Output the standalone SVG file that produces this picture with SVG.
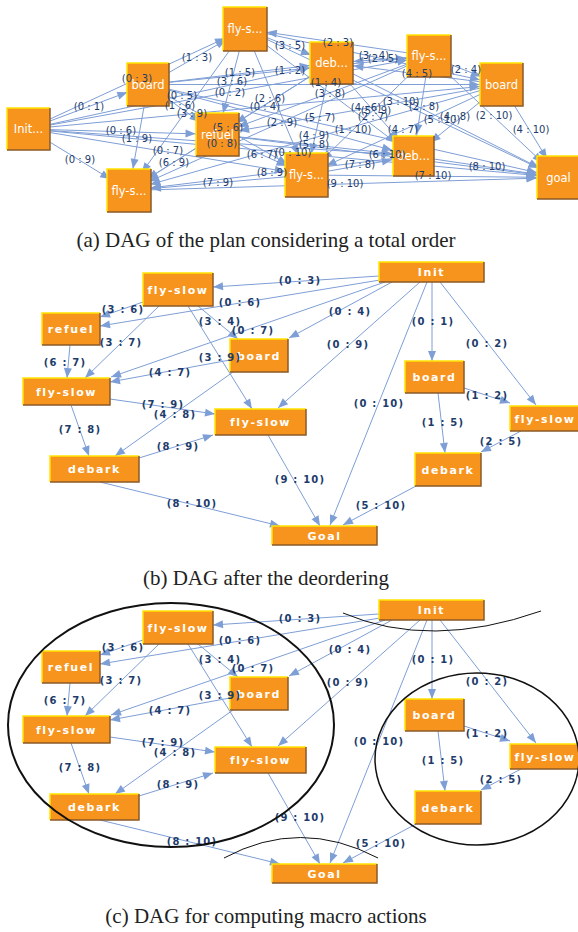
<svg xmlns="http://www.w3.org/2000/svg" width="578" height="932" viewBox="0 0 578 932">
<style>
.e{stroke:#7E9ED6;stroke-width:1;fill:none}
.ea{marker-end:url(#ma)}
.eb{marker-end:url(#mb)}
.box{fill:#F7941D}
.hi{fill:none;stroke:#FFE400;stroke-width:1.5}
.lo{fill:none;stroke:#8A5A28;stroke-width:1.5}
.nta{font-family:"DejaVu Sans",sans-serif;font-size:11.5px;fill:#fff;text-anchor:middle}
.ntb{font-family:"DejaVu Sans",sans-serif;font-size:11px;font-weight:bold;fill:#fff;text-anchor:middle;letter-spacing:1.6px}
.la{font-family:"DejaVu Sans",sans-serif;font-size:10px;fill:#1E3C6B;text-anchor:middle}
.lb{font-family:"DejaVu Sans",sans-serif;font-size:10px;font-weight:bold;fill:#1E3C6B;text-anchor:middle;letter-spacing:1.2px}
.cap{font-family:"Liberation Serif",serif;font-size:21px;fill:#222;text-anchor:middle}
.ring{fill:none;stroke:#111}
</style>
<defs>
<marker id="ma" viewBox="0 0 10 10" refX="32" refY="5" markerWidth="10" markerHeight="10" markerUnits="userSpaceOnUse" orient="auto" overflow="visible"><path d="M0,1 L10,5 L0,9 z" fill="#7E9ED6"/></marker>
<marker id="mb" viewBox="0 0 10 10" refX="10" refY="5" markerWidth="10" markerHeight="10" markerUnits="userSpaceOnUse" orient="auto" overflow="visible"><path d="M0,1 L10,5 L0,9 z" fill="#7E9ED6"/></marker>
</defs>
<rect width="578" height="932" fill="#fff"/>

<!-- ===== Panel (a) ===== -->
<g id="a-connectors" class="e ea">
<path d="M28.5,129 L148,84.5"/><path d="M28.5,129 L429,56"/><path d="M28.5,129 L245,29"/><path d="M28.5,129 L501.5,84.5"/><path d="M28.5,129 L331.5,63"/><path d="M28.5,129 L217.5,134.5"/><path d="M28.5,129 L306.5,175"/><path d="M28.5,129 L413.5,156"/><path d="M28.5,129 L129,190.5"/><path d="M28.5,129 L558.5,177.5"/>
<path d="M148,84.5 L429,56"/><path d="M148,84.5 L245,29"/><path d="M148,84.5 L501.5,84.5"/><path d="M148,84.5 L331.5,63"/><path d="M148,84.5 L217.5,134.5"/><path d="M148,84.5 L306.5,175"/><path d="M148,84.5 L413.5,156"/><path d="M148,84.5 L129,190.5"/><path d="M148,84.5 L558.5,177.5"/>
<path d="M429,56 L245,29"/><path d="M429,56 L501.5,84.5"/><path d="M429,56 L331.5,63"/><path d="M429,56 L217.5,134.5"/><path d="M429,56 L306.5,175"/><path d="M429,56 L413.5,156"/><path d="M429,56 L129,190.5"/><path d="M429,56 L558.5,177.5"/>
<path d="M245,29 L501.5,84.5"/><path d="M245,29 L331.5,63"/><path d="M245,29 L217.5,134.5"/><path d="M245,29 L306.5,175"/><path d="M245,29 L413.5,156"/><path d="M245,29 L129,190.5"/><path d="M245,29 L558.5,177.5"/>
<path d="M501.5,84.5 L331.5,63"/><path d="M501.5,84.5 L217.5,134.5"/><path d="M501.5,84.5 L306.5,175"/><path d="M501.5,84.5 L413.5,156"/><path d="M501.5,84.5 L129,190.5"/><path d="M501.5,84.5 L558.5,177.5"/>
<path d="M331.5,63 L217.5,134.5"/><path d="M331.5,63 L306.5,175"/><path d="M331.5,63 L413.5,156"/><path d="M331.5,63 L129,190.5"/><path d="M331.5,63 L558.5,177.5"/>
<path d="M217.5,134.5 L306.5,175"/><path d="M217.5,134.5 L413.5,156"/><path d="M217.5,134.5 L129,190.5"/><path d="M217.5,134.5 L558.5,177.5"/>
<path d="M306.5,175 L413.5,156"/><path d="M306.5,175 L129,190.5"/><path d="M306.5,175 L558.5,177.5"/>
<path d="M413.5,156 L129,190.5"/><path d="M413.5,156 L558.5,177.5"/>
<path d="M129,190.5 L558.5,177.5"/>
</g>
<g id="a-n0"><rect class="box" x="7" y="108" width="43" height="42"/><path class="hi" d="M7,150 V108 H50"/><path class="lo" d="M50,108 V150 H7"/><text class="nta" x="28.5" y="133">Init...</text></g>
<g id="a-n1"><rect class="box" x="127" y="63" width="42" height="43"/><path class="hi" d="M127,106 V63 H169"/><path class="lo" d="M169,63 V106 H127"/><text class="nta" x="148" y="89">board</text></g>
<g id="a-n2"><rect class="box" x="407" y="35" width="44" height="42"/><path class="hi" d="M407,77 V35 H451"/><path class="lo" d="M451,35 V77 H407"/><text class="nta" x="429" y="60">fly-s...</text></g>
<g id="a-n3"><rect class="box" x="223" y="7" width="44" height="44"/><path class="hi" d="M223,51 V7 H267"/><path class="lo" d="M267,7 V51 H223"/><text class="nta" x="245" y="33">fly-s...</text></g>
<g id="a-n4"><rect class="box" x="480" y="63" width="43" height="43"/><path class="hi" d="M480,106 V63 H523"/><path class="lo" d="M523,63 V106 H480"/><text class="nta" x="501.5" y="89">board</text></g>
<g id="a-n5"><rect class="box" x="310" y="42" width="43" height="42"/><path class="hi" d="M310,84 V42 H353"/><path class="lo" d="M353,42 V84 H310"/><text class="nta" x="331.5" y="67">deb...</text></g>
<g id="a-n6"><rect class="box" x="196" y="113" width="43" height="43"/><path class="hi" d="M196,156 V113 H239"/><path class="lo" d="M239,113 V156 H196"/><text class="nta" x="217.5" y="139">refuel</text></g>
<g id="a-n7"><rect class="box" x="285" y="153" width="43" height="44"/><path class="hi" d="M285,197 V153 H328"/><path class="lo" d="M328,153 V197 H285"/><text class="nta" x="306.5" y="179">fly-s...</text></g>
<g id="a-n8"><rect class="box" x="393" y="136" width="41" height="40"/><path class="hi" d="M393,176 V136 H434"/><path class="lo" d="M434,136 V176 H393"/><text class="nta" x="413.5" y="160">deb...</text></g>
<g id="a-n9"><rect class="box" x="107" y="169" width="44" height="43"/><path class="hi" d="M107,212 V169 H151"/><path class="lo" d="M151,169 V212 H107"/><text class="nta" x="129" y="195">fly-s...</text></g>
<g id="a-n10"><rect class="box" x="537" y="156" width="43" height="43"/><path class="hi" d="M537,199 V156 H580"/><path class="lo" d="M580,156 V199 H537"/><text class="nta" x="558.5" y="182">goal</text></g>
<g id="a-labels" class="la">
<text x="89" y="110">(0 : 1)</text><text x="137" y="82">(0 : 3)</text><text x="197" y="61">(1 : 3)</text><text x="80" y="163">(0 : 9)</text>
<text x="121" y="134">(0 : 6)</text><text x="137" y="142">(1 : 9)</text><text x="182" y="99">(0 : 5)</text><text x="232" y="85">(3 : 6)</text>
<text x="230" y="96">(0 : 2)</text><text x="240" y="76">(1 : 5)</text><text x="180" y="109">(1 : 6)</text><text x="192" y="117">(3 : 9)</text>
<text x="168" y="154">(0 : 7)</text><text x="174" y="166">(6 : 9)</text><text x="222" y="147">(0 : 8)</text><text x="228" y="131">(5 : 6)</text>
<text x="218" y="186">(7 : 9)</text><text x="272" y="176">(8 : 9)</text><text x="262" y="158">(6 : 7)</text><text x="265" y="110">(0 : 4)</text>
<text x="270" y="102">(2 : 6)</text><text x="290" y="49">(3 : 5)</text><text x="290" y="74">(1 : 2)</text><text x="282" y="126">(2 : 9)</text>
<text x="320" y="121">(5 : 7)</text><text x="314" y="139">(4 : 9)</text><text x="314" y="148">(5 : 8)</text><text x="353" y="133">(1 : 10)</text>
<text x="293" y="156">(0 : 10)</text><text x="387" y="158">(6 : 10)</text><text x="360" y="168">(7 : 8)</text><text x="345" y="187">(9 : 10)</text>
<text x="433" y="179">(7 : 10)</text><text x="487" y="170">(8 : 10)</text><text x="403" y="133">(4 : 7)</text><text x="373" y="120">(2 : 7)</text>
<text x="366" y="111">(4 : 6)</text><text x="401" y="105">(3 : 10)</text><text x="424" y="110">(2 : 8)</text><text x="442" y="123">(5 : 10)</text>
<text x="455" y="120">(4 : 8)</text><text x="494" y="119">(2 : 10)</text><text x="531" y="133">(4 : 10)</text><text x="466" y="73">(2 : 4)</text>
<text x="417" y="77">(4 : 5)</text><text x="338" y="46">(2 : 3)</text><text x="374" y="59">(3 : 4)</text><text x="383" y="62">(2 : 5)</text>
<text x="326" y="86">(1 : 4)</text><text x="330" y="97">(3 : 8)</text><text x="376" y="114">(5 : 9)</text>
</g>
<text class="cap" x="266" y="247">(a) DAG of the plan considering a total order</text>

<!-- ===== Panel (b) ===== -->
<g id="b-connectors" class="e eb">
<path d="M379,276 L213,287"/><path d="M380,280 L100,326"/><path d="M385,282 L111,377"/><path d="M392,282 L289,338"/>
<path d="M420,282 L278,408"/><path d="M427,282 L330,525"/><path d="M432,282 L432,361"/><path d="M440,282 L536,405"/>
<path d="M464,388 L510,403"/><path d="M438,393 L445,453"/><path d="M521,431 L481,452"/><path d="M416,486 L343,525"/>
<path d="M143,302 L100,317"/><path d="M159,306 L85,378"/><path d="M198,306 L238,339"/><path d="M188,306 L252,409"/>
<path d="M70,345 L67,378"/><path d="M230,360 L110,382"/><path d="M233,372 L115,456"/><path d="M110,399 L215,414"/>
<path d="M71,405 L89,456"/><path d="M139,458 L213,435"/><path d="M100,482 L280,526"/><path d="M268,435 L320,526"/>
</g>
<g id="b-n0"><rect class="box" x="379" y="262" width="105" height="20"/><path class="hi" d="M379,282 V262 H484"/><path class="lo" d="M484,262 V282 H379"/><text class="ntb" x="431.5" y="276">Init</text></g>
<g id="b-n1"><rect class="box" x="405" y="361" width="59" height="32"/><path class="hi" d="M405,393 V361 H464"/><path class="lo" d="M464,361 V393 H405"/><text class="ntb" x="434.5" y="381">board</text></g>
<g id="b-n2"><rect class="box" x="510" y="406" width="70" height="25"/><path class="hi" d="M510,431 V406 H580"/><path class="lo" d="M580,406 V431 H510"/><text class="ntb" x="545" y="422.5">fly-slow</text></g>
<g id="b-n3"><rect class="box" x="143" y="273" width="70" height="33"/><path class="hi" d="M143,306 V273 H213"/><path class="lo" d="M213,273 V306 H143"/><text class="ntb" x="178" y="293.5">fly-slow</text></g>
<g id="b-n4"><rect class="box" x="230" y="339" width="58" height="33"/><path class="hi" d="M230,372 V339 H288"/><path class="lo" d="M288,339 V372 H230"/><text class="ntb" x="259" y="359.5">board</text></g>
<g id="b-n5"><rect class="box" x="415" y="453" width="66" height="33"/><path class="hi" d="M415,486 V453 H481"/><path class="lo" d="M481,453 V486 H415"/><text class="ntb" x="448" y="473.5">debark</text></g>
<g id="b-n6"><rect class="box" x="42" y="313" width="58" height="32"/><path class="hi" d="M42,345 V313 H100"/><path class="lo" d="M100,313 V345 H42"/><text class="ntb" x="71" y="333">refuel</text></g>
<g id="b-n7"><rect class="box" x="23" y="378" width="87" height="27"/><path class="hi" d="M23,405 V378 H110"/><path class="lo" d="M110,378 V405 H23"/><text class="ntb" x="66.5" y="395.5">fly-slow</text></g>
<g id="b-n8"><rect class="box" x="50" y="456" width="89" height="26"/><path class="hi" d="M50,482 V456 H139"/><path class="lo" d="M139,456 V482 H50"/><text class="ntb" x="94.5" y="473">debark</text></g>
<g id="b-n9"><rect class="box" x="215" y="409" width="91" height="26"/><path class="hi" d="M215,435 V409 H306"/><path class="lo" d="M306,409 V435 H215"/><text class="ntb" x="260.5" y="426">fly-slow</text></g>
<g id="b-n10"><rect class="box" x="272" y="526" width="105" height="19"/><path class="hi" d="M272,545 V526 H377"/><path class="lo" d="M377,526 V545 H272"/><text class="ntb" x="324.5" y="539.5">Goal</text></g>
<g id="b-labels" class="lb">
<text x="300" y="284">(0 : 3)</text><text x="240" y="306">(0 : 6)</text><text x="123" y="313">(3 : 6)</text><text x="121" y="346">(3 : 7)</text>
<text x="220" y="325">(3 : 4)</text><text x="253" y="334">(0 : 7)</text><text x="220" y="361">(3 : 9)</text><text x="170" y="376">(4 : 7)</text>
<text x="65" y="366">(6 : 7)</text><text x="163" y="408">(7 : 9)</text><text x="175" y="418">(4 : 8)</text><text x="80" y="433">(7 : 8)</text>
<text x="178" y="450">(8 : 9)</text><text x="192" y="507">(8 : 10)</text><text x="300" y="483">(9 : 10)</text><text x="350" y="315">(0 : 4)</text>
<text x="348" y="348">(0 : 9)</text><text x="379" y="407">(0 : 10)</text><text x="433" y="325">(0 : 1)</text><text x="487" y="347">(0 : 2)</text>
<text x="487" y="399">(1 : 2)</text><text x="443" y="426">(1 : 5)</text><text x="501" y="445">(2 : 5)</text><text x="381" y="509">(5 : 10)</text>
</g>
<text class="cap" x="266" y="585">(b) DAG after the deordering</text>

<!-- ===== Panel (c) ===== -->
<g transform="translate(0,338)">
<g id="c-connectors" class="e eb">
<path d="M379,276 L213,287"/><path d="M380,280 L100,326"/><path d="M385,282 L111,377"/><path d="M392,282 L289,338"/>
<path d="M420,282 L278,408"/><path d="M427,282 L330,525"/><path d="M432,282 L432,361"/><path d="M440,282 L536,405"/>
<path d="M464,388 L510,403"/><path d="M438,393 L445,453"/><path d="M521,431 L481,452"/><path d="M416,486 L343,525"/>
<path d="M143,302 L100,317"/><path d="M159,306 L85,378"/><path d="M198,306 L238,339"/><path d="M188,306 L252,409"/>
<path d="M70,345 L67,378"/><path d="M230,360 L110,382"/><path d="M233,372 L115,456"/><path d="M110,399 L215,414"/>
<path d="M71,405 L89,456"/><path d="M139,458 L213,435"/><path d="M100,482 L280,526"/><path d="M268,435 L320,526"/>
</g>
<g id="c-n0"><rect class="box" x="379" y="262" width="105" height="20"/><path class="hi" d="M379,282 V262 H484"/><path class="lo" d="M484,262 V282 H379"/><text class="ntb" x="431.5" y="276">Init</text></g>
<g id="c-n1"><rect class="box" x="405" y="361" width="59" height="32"/><path class="hi" d="M405,393 V361 H464"/><path class="lo" d="M464,361 V393 H405"/><text class="ntb" x="434.5" y="381">board</text></g>
<g id="c-n2"><rect class="box" x="510" y="406" width="70" height="25"/><path class="hi" d="M510,431 V406 H580"/><path class="lo" d="M580,406 V431 H510"/><text class="ntb" x="545" y="422.5">fly-slow</text></g>
<g id="c-n3"><rect class="box" x="143" y="273" width="70" height="33"/><path class="hi" d="M143,306 V273 H213"/><path class="lo" d="M213,273 V306 H143"/><text class="ntb" x="178" y="293.5">fly-slow</text></g>
<g id="c-n4"><rect class="box" x="230" y="339" width="58" height="33"/><path class="hi" d="M230,372 V339 H288"/><path class="lo" d="M288,339 V372 H230"/><text class="ntb" x="259" y="359.5">board</text></g>
<g id="c-n5"><rect class="box" x="415" y="453" width="66" height="33"/><path class="hi" d="M415,486 V453 H481"/><path class="lo" d="M481,453 V486 H415"/><text class="ntb" x="448" y="473.5">debark</text></g>
<g id="c-n6"><rect class="box" x="42" y="313" width="58" height="32"/><path class="hi" d="M42,345 V313 H100"/><path class="lo" d="M100,313 V345 H42"/><text class="ntb" x="71" y="333">refuel</text></g>
<g id="c-n7"><rect class="box" x="23" y="378" width="87" height="27"/><path class="hi" d="M23,405 V378 H110"/><path class="lo" d="M110,378 V405 H23"/><text class="ntb" x="66.5" y="395.5">fly-slow</text></g>
<g id="c-n8"><rect class="box" x="50" y="456" width="89" height="26"/><path class="hi" d="M50,482 V456 H139"/><path class="lo" d="M139,456 V482 H50"/><text class="ntb" x="94.5" y="473">debark</text></g>
<g id="c-n9"><rect class="box" x="215" y="409" width="91" height="26"/><path class="hi" d="M215,435 V409 H306"/><path class="lo" d="M306,409 V435 H215"/><text class="ntb" x="260.5" y="426">fly-slow</text></g>
<g id="c-n10"><rect class="box" x="272" y="526" width="105" height="19"/><path class="hi" d="M272,545 V526 H377"/><path class="lo" d="M377,526 V545 H272"/><text class="ntb" x="324.5" y="539.5">Goal</text></g>
<g id="c-labels" class="lb">
<text x="300" y="284">(0 : 3)</text><text x="240" y="306">(0 : 6)</text><text x="123" y="313">(3 : 6)</text><text x="121" y="346">(3 : 7)</text>
<text x="220" y="325">(3 : 4)</text><text x="253" y="334">(0 : 7)</text><text x="220" y="361">(3 : 9)</text><text x="170" y="376">(4 : 7)</text>
<text x="65" y="366">(6 : 7)</text><text x="163" y="408">(7 : 9)</text><text x="175" y="418">(4 : 8)</text><text x="80" y="433">(7 : 8)</text>
<text x="178" y="450">(8 : 9)</text><text x="192" y="507">(8 : 10)</text><text x="300" y="483">(9 : 10)</text><text x="350" y="315">(0 : 4)</text>
<text x="348" y="348">(0 : 9)</text><text x="379" y="407">(0 : 10)</text><text x="433" y="325">(0 : 1)</text><text x="487" y="347">(0 : 2)</text>
<text x="487" y="399">(1 : 2)</text><text x="443" y="426">(1 : 5)</text><text x="501" y="445">(2 : 5)</text><text x="381" y="509">(5 : 10)</text>
</g>
</g>
<g id="c-groups">
<ellipse class="ring" cx="171" cy="725" rx="163" ry="122" stroke-width="2"/>
<ellipse class="ring" cx="477" cy="759" rx="102" ry="86" stroke-width="1.5"/>
<path class="ring" d="M343,613 Q430,650 541,611" stroke-width="1"/>
<path class="ring" d="M224,858 Q300,817 378,858" stroke-width="1"/>
</g>
<text class="cap" x="266" y="923">(c) DAG for computing macro actions</text>
</svg>
